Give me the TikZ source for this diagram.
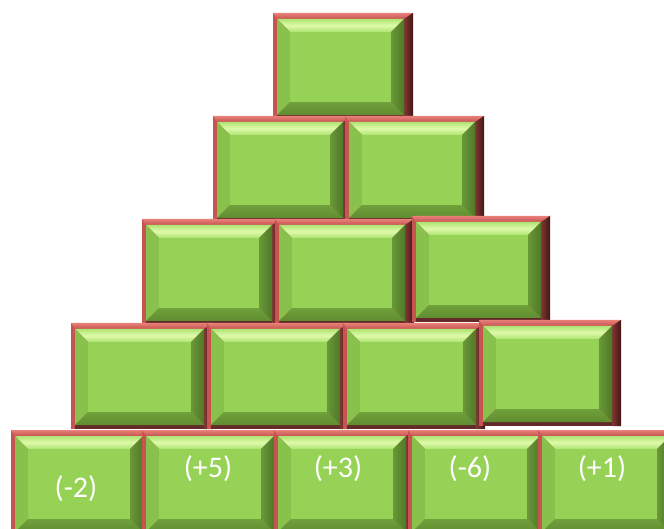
\documentclass[tikz,border=0pt]{standalone}
\usepackage{fontspec}
\setmainfont{Carlito}
\usepackage{tikz}

\definecolor{boxgreen}{RGB}{150,210,86}
\definecolor{bevellight}{RGB}{176,228,116}
\definecolor{bevelhi}{RGB}{222,250,170}
\definecolor{bevelleft}{RGB}{136,194,76}
\definecolor{bevelright}{RGB}{80,120,40}
\definecolor{bevelbottom}{RGB}{96,140,48}
\definecolor{framered}{RGB}{198,84,80}
\definecolor{framelight}{RGB}{232,128,122}
\definecolor{framedark}{RGB}{66,22,22}

%% one bevelled block: top-left x, top-left y, width
\newcommand{\pyrblock}[3]{%
  \begin{scope}[shift={(#1,#2)}]
    \fill[framered] (0,0) rectangle (#3,106);
    \shade[top color=framelight, bottom color=framered]
      (0,0) -- (#3,0) -- ({#3-9},6) -- (4,6) -- cycle;
    \shade[left color=framered!65!black, right color=framedark]
      ({#3-9},6) -- (#3,0) -- (#3,106) -- ({#3-9},106) -- cycle;
    \fill[framered!50!black] (4,102) rectangle ({#3-9},106);
    % bevels
    \shade[top color=bevellight, bottom color=bevellight!90!boxgreen, middle color=bevelhi]
      (4,6) -- ({#3-9},6) -- ({#3-22},19) -- (17,19) -- cycle;
    \fill[bevelleft] (4,6) -- (17,19) -- (17,89) -- (4,102) -- cycle;
    \shade[left color=bevelright!65!boxgreen, right color=bevelright]
      ({#3-9},6) -- ({#3-9},102) -- ({#3-22},89) -- ({#3-22},19) -- cycle;
    \shade[top color=bevelbottom!70!boxgreen, bottom color=bevelbottom]
      (4,102) -- ({#3-9},102) -- ({#3-22},89) -- (17,89) -- cycle;
    \fill[boxgreen] (17,19) rectangle ({#3-22},89);
  \end{scope}%
}

\begin{document}
\begin{tikzpicture}[
  x=1pt, y=-1pt,
  numlabel/.style={text=white, font=\fontsize{30}{36}\selectfont, inner sep=0pt}
]
\useasboundingbox (0,0) rectangle (664,529);
\clip (0,0) rectangle (664,529);

%% ── rows, top to bottom ──────────────────────────────────────────────────────
\pyrblock{273}{13}{140}

\foreach \x in {213,345} { \pyrblock{\x}{116}{139} }

\pyrblock{142}{219}{139}
\pyrblock{275}{219}{139}
\pyrblock{412}{216}{138}

\foreach \x/\y in {71/323, 207/323, 343/323, 479/320} { \pyrblock{\x}{\y}{142} }

\foreach \x in {11,142,274,408,538} { \pyrblock{\x}{430}{141} }

%% ── bottom row numbers ───────────────────────────────────────────────────────
\node[numlabel] (n1) at (76,489) {(-2)};
\node[numlabel] (n2) at (208,469) {(+5)};
\node[numlabel] (n3) at (338,469) {(+3)};
\node[numlabel] (n4) at (470,469) {(-6)};
\node[numlabel] (n5) at (602,469) {(+1)};

\end{tikzpicture}
\end{document}
